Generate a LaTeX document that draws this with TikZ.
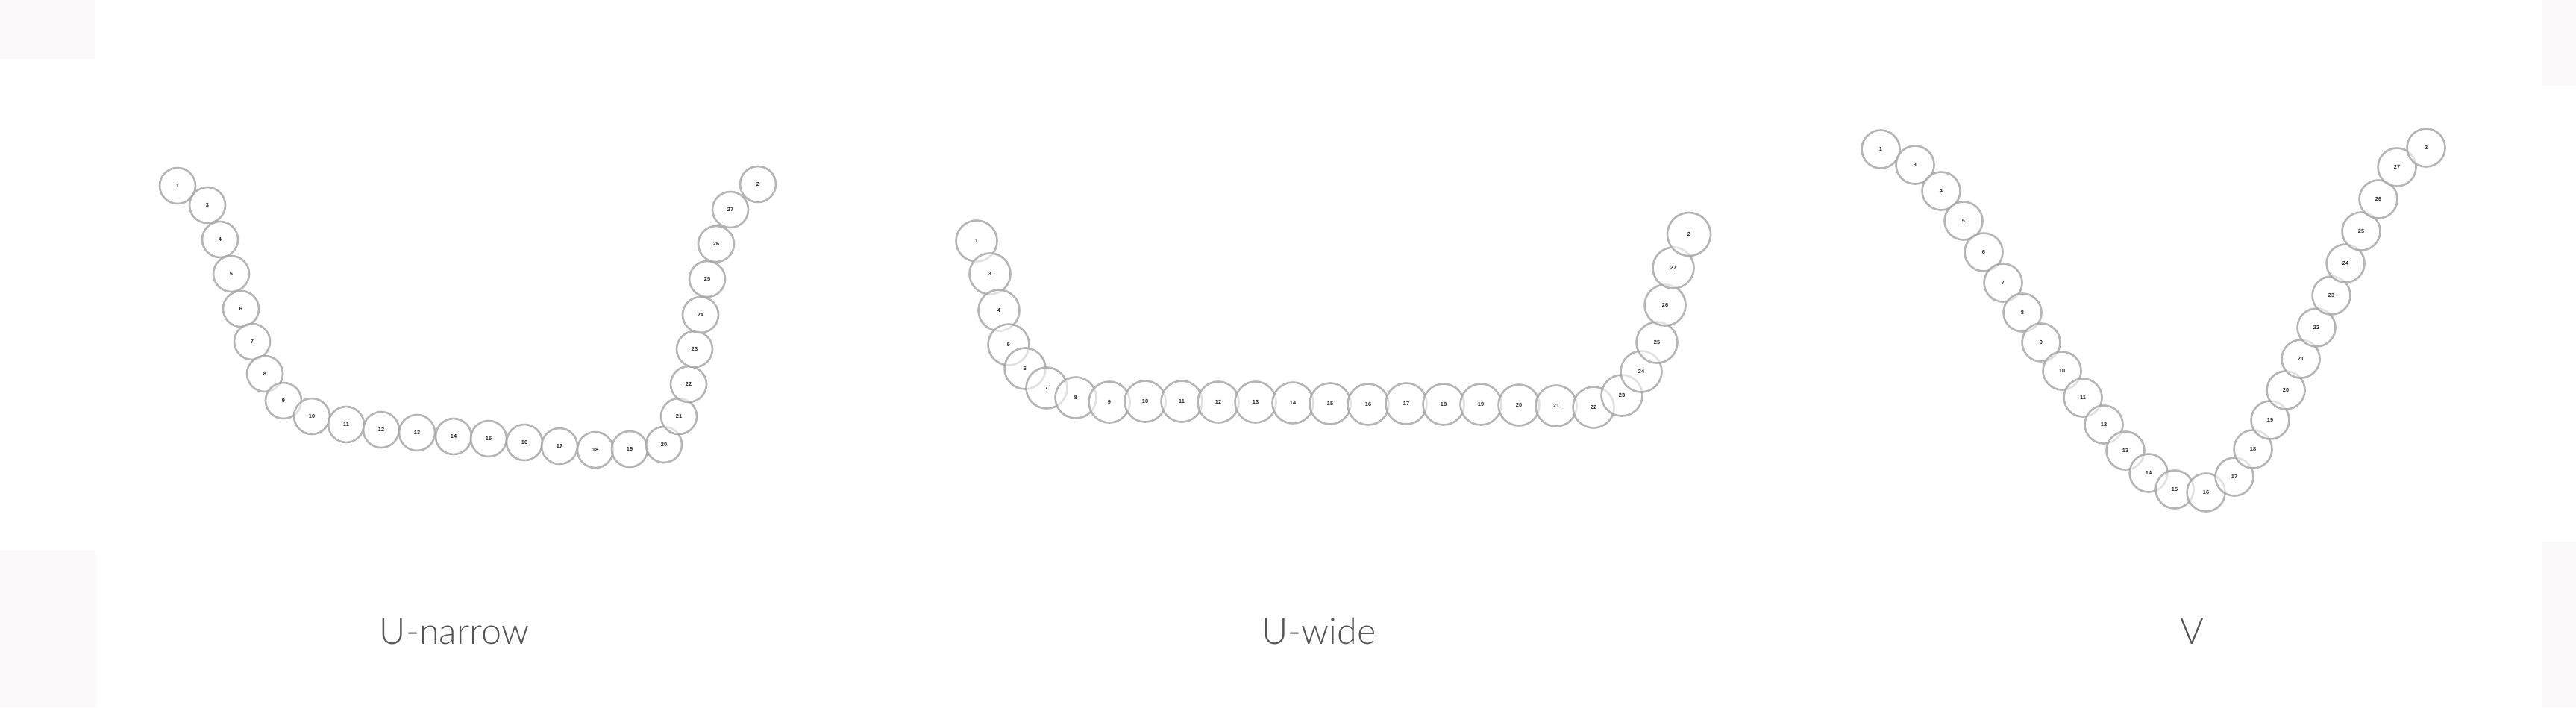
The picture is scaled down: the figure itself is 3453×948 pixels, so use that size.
\documentclass[tikz,border=0pt]{standalone}
\usepackage{fontspec}
\setmainfont{Liberation Sans}
\newfontfamily\lightfont{Lato Light}
\definecolor{pinkbg}{HTML}{FBF9F9}
\definecolor{titlegray}{HTML}{555555}
\pgfdeclareradialshading{bubble}{\pgfpoint{0bp}{0bp}}{color(0bp)=(white); color(24bp)=(white); color(36bp)=(black!4); color(45bp)=(black!14); color(50bp)=(black!30); color(100bp)=(black!30)}
\tikzset{
  bead/.style={circle, shade, shading=bubble, draw=black!36, line width=0.75pt,
    fill opacity=0.6, draw opacity=0.8, text opacity=1, inner sep=0pt,
    font=\fontsize{2.1}{2.5}\selectfont\bfseries, text=black!85},
  narrowbead/.style={bead, minimum size=4.8mm},
  widebead/.style={bead, minimum size=5.5mm},
  vbead/.style={bead, minimum size=5.1mm},
  caption/.style={font=\lightfont\fontsize{13.8}{16}\selectfont, text=titlegray, anchor=base, inner sep=0pt},
  corner/.style={fill=pinkbg, draw=none}
}
\begin{document}
\begin{tikzpicture}[x=0.1mm, y=-0.1mm]
\useasboundingbox (0,0) rectangle (3453,948);
\fill[white] (0,0) rectangle (3453,948);
\fill[corner] (0,0) rectangle (128,79);
\fill[corner] (3408,0) rectangle (3453,115);
\fill[corner] (0,738) rectangle (129,948);
\fill[corner] (3408,726) rectangle (3453,948);
% U-narrow
\foreach \l/\x/\y in {1/238/249, 3/278/275, 4/295/321, 5/310/367, 6/323/414, 7/338/458, 8/355/501, 9/380/537, 10/418/558, 11/464/569, 12/511/576, 13/559/580, 14/608/585, 15/655/588, 16/703/593, 17/750/598, 18/798/603, 19/844/602, 20/890/596, 21/910/558, 22/923/515, 23/931/468, 24/939/422, 25/948/374, 26/960/327, 27/979/281, 2/1016/247}
  \node[narrowbead] (n\l) at (\x,\y) {\l};
% U-wide
\foreach \l/\x/\y in {1/1309/323, 3/1327/367, 4/1339/416, 5/1352/462, 6/1374/494, 7/1403/520, 8/1442/533, 9/1487/539, 10/1535/538, 11/1584/538, 12/1633/539, 13/1683/539, 14/1733/540, 15/1783/541, 16/1834/542, 17/1885/541, 18/1935/542, 19/1985/542, 20/2036/543, 21/2086/544, 22/2136/546, 23/2174/530, 24/2200/498, 25/2221/459, 26/2232/409, 27/2243/359}
  \node[widebead] (w\l) at (\x,\y) {\l};
\node[widebead, minimum size=5.8mm] (w2) at (2264,314) {2};
% V
\foreach \l/\x/\y in {1/2521/200, 3/2567/221, 4/2602/256, 5/2632/296, 6/2659/338, 7/2685/379, 8/2711/419, 9/2736/459, 10/2764/497, 11/2792/533, 12/2820/569, 13/2849/604, 14/2880/634, 15/2915/656, 16/2957/660, 17/2995/639, 18/3020/602, 19/3043/563, 20/3064/523, 21/3084/481, 22/3105/439, 23/3125/396, 24/3144/353, 25/3165/310, 26/3188/267, 27/3213/224, 2/3252/198}
  \node[vbead] (v\l) at (\x,\y) {\l};
% captions
\node[caption] (capn) at (609,863) {U-narrow};
\node[caption] (capw) at (1768,863) {U-wide};
\node[caption] (capv) at (2938,863) {V};
\end{tikzpicture}
\end{document}
